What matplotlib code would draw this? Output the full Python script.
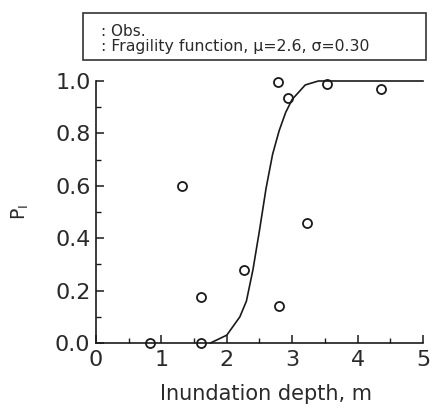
import matplotlib
matplotlib.use("Agg")
import matplotlib.pyplot as plt
from matplotlib.patches import Rectangle
from matplotlib.ticker import MultipleLocator

# Observed damage probabilities
obs_x = [0.82, 1.32, 1.60, 1.60, 2.27, 2.79, 2.80, 2.94, 3.23, 3.53, 4.36]
obs_y = [0.0, 0.60, 0.174, 0.0, 0.279, 0.997, 0.141, 0.936, 0.457, 0.987, 0.968]

# Fragility curve
curve_x = [1.75, 2.0, 2.2, 2.3, 2.4, 2.5, 2.6, 2.7, 2.8, 2.9, 3.0, 3.2, 3.4, 5.0]
curve_y = [0.0, 0.03, 0.10, 0.16, 0.28, 0.43, 0.59, 0.72, 0.81, 0.88, 0.93, 0.985, 1.0, 1.0]

legend_labels = [": Obs.", ": Fragility function, \u03bc=2.6, \u03c3=0.30"]
x_ticks = [0, 1, 2, 3, 4, 5]
y_ticks = [0.0, 0.2, 0.4, 0.6, 0.8, 1.0]

W, H = 431, 409
fig = plt.figure(figsize=(W / 100, H / 100), dpi=100)
ax = fig.add_axes([96 / W, 1 - 343 / H, (423 - 96) / W, (343 - 81) / H])

tc = "#2a2a2a"
ax.plot(curve_x, curve_y, color="#1a1a1a", lw=1.2, clip_on=False, zorder=3)
ax.plot(obs_x, obs_y, linestyle="none", marker="o", ms=6.5, mfc="none",
        mec="#1a1a1a", mew=1.3, clip_on=False, zorder=4)

ax.set_xlim(0, 5)
ax.set_ylim(0, 1)
ax.set_xticks(x_ticks)
ax.set_yticks(y_ticks)
ax.set_xticklabels([str(v) for v in x_ticks])
ax.set_yticklabels([f"{v:.1f}" for v in y_ticks])
ax.xaxis.set_minor_locator(MultipleLocator(0.5))
ax.yaxis.set_minor_locator(MultipleLocator(0.1))
for s in ["top", "right"]:
    ax.spines[s].set_visible(False)
for s in ["left", "bottom"]:
    ax.spines[s].set_linewidth(1.2)
    ax.spines[s].set_color("#1a1a1a")
ax.tick_params(which="major", direction="in", length=6, width=1.1,
               labelsize=16, labelcolor=tc, color="#1a1a1a")
ax.tick_params(which="minor", direction="in", length=3.5, width=1.0, color="#1a1a1a")
ax.tick_params(axis="x", which="major", pad=5)
ax.tick_params(axis="y", which="major", pad=4)

ax.set_xlabel("Inundation depth, m", fontsize=15, color=tc)
ax.xaxis.set_label_coords(0.52, -0.155)
ax.set_ylabel("P$_\\mathregular{I}$", fontsize=13.5, color=tc)
ax.yaxis.set_label_coords(-0.20, 0.5)

# legend box
fig.patches.append(Rectangle((83 / W, 1 - 60 / H), (426 - 83) / W, 47 / H,
                             transform=fig.transFigure, fill=False,
                             edgecolor="#333333", lw=1.2))
fig.text(101 / W, 1 - 36 / H, legend_labels[0], fontsize=11, color=tc, va="baseline")
fig.text(101 / W, 1 - 50.5 / H, legend_labels[1], fontsize=11.3, color=tc, va="baseline")

fig.savefig("out.png", dpi=100)
